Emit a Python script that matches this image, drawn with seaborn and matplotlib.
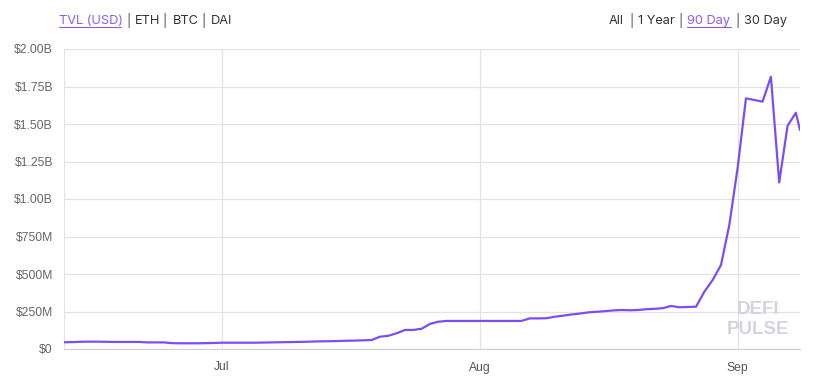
import matplotlib
matplotlib.use("Agg")
import matplotlib.pyplot as plt
import pandas as pd
import seaborn as sns
from matplotlib.lines import Line2D

# daily TVL readings, Jun 12 -> Sep 8 (last one is an intraday point)
dates = list(pd.date_range("2020-06-12", "2020-09-08", freq="D")) + [pd.Timestamp("2020-09-08 12:00")]
tvl_musd = [
    45, 46, 48, 49, 49, 48, 47, 47, 47, 47,
    44, 44, 44, 39, 38, 38, 38, 39, 40, 42,
    42, 42, 42, 42, 43, 44, 45, 46, 47, 48,
    50, 51, 52, 53, 55, 56, 58, 60, 82, 88,
    105, 127, 127, 135, 167, 182, 187, 187, 187, 187,
    187, 187, 187, 187, 187, 187, 204, 204, 205, 215,
    222, 230, 236, 244, 248, 252, 257, 260, 258, 260,
    265, 268, 272, 287, 278, 280, 282, 382, 460, 560,
    827, 1207, 1671, 1660, 1649, 1815, 1110, 1487, 1575,
    1460,
]

y_ticks = [0, 250, 500, 750, 1000, 1250, 1500, 1750, 2000]
y_labels = ["$0", "$250M", "$500M", "$750M", "$1.00B", "$1.25B", "$1.50B", "$1.75B", "$2.00B"]
x_ticks = [pd.Timestamp("2020-07-01"), pd.Timestamp("2020-08-01"), pd.Timestamp("2020-09-01")]
x_labels = ["Jul", "Aug", "Sep"]

left_menu = ["TVL (USD)", "|", "ETH", "|", "BTC", "|", "DAI"]
right_menu = ["All", "|", "1 Year", "|", "90 Day", "|", "30 Day"]

df = pd.DataFrame({"date": dates, "tvl": tvl_musd})

sns.set_style("white")
plt.rcParams["font.family"] = ["Liberation Sans", "DejaVu Sans"]

W, H = 819, 382
fig = plt.figure(figsize=(W / 100, H / 100), dpi=100)
ax = fig.add_axes([64 / W, 33 / H, (800 - 64) / W, 300 / H])

sns.lineplot(data=df, x="date", y="tvl", ax=ax, color="#7a4ef4", linewidth=1.6, zorder=3)

ax.set_xlim(dates[0], dates[-1])
ax.set_ylim(0, 2000)
ax.set_yticks(y_ticks)
ax.set_yticklabels(y_labels)
ax.set_xticks(x_ticks)
ax.set_xticklabels(x_labels)
ax.set_xlabel("")
ax.set_ylabel("")

grid_c = "#e3e3e3"
ax.grid(True, color=grid_c, linewidth=0.9, zorder=0)
for s in ["top", "right"]:
    ax.spines[s].set_visible(False)
ax.spines["left"].set_color(grid_c)
ax.spines["bottom"].set_color("#cfcfcf")
ax.tick_params(axis="y", length=7, color=grid_c, pad=1, labelsize=8.7, labelcolor="#666666")
ax.tick_params(axis="x", length=4, color=grid_c, pad=5, labelsize=8.7, labelcolor="#555555")

# watermark
wm = "#d6d3de"
fig.text(758 / W, 1 - 310 / H, "DEFI", ha="center", va="center", fontsize=13.5,
         fontweight="bold", color=wm, zorder=1)
fig.text(758 / W, 1 - 330 / H, "PULSE", ha="center", va="center", fontsize=13.5,
         fontweight="bold", color=wm, zorder=1)

# menus above the chart
purple = "#8c5cf2"
dark = "#333333"
left_x = [59, 126, 135, 162, 173, 201, 211]
right_x = [609, 629, 638, 678, 687, 735, 744]
ty = 1 - 21 / H
for txt, xx in zip(left_menu, left_x):
    c = purple if txt == "TVL (USD)" else ("#555555" if txt == "|" else dark)
    fig.text(xx / W, ty, txt, ha="left", va="center", fontsize=9.2, color=c,
             family=["Inter", "DejaVu Sans"])
for txt, xx in zip(right_menu, right_x):
    c = purple if txt == "90 Day" else ("#555555" if txt == "|" else dark)
    fig.text(xx / W, ty, txt, ha="left", va="center", fontsize=9.2, color=c,
             family=["Inter", "DejaVu Sans"])

uy = 1 - 27 / H
fig.add_artist(Line2D([59 / W, 121 / W], [uy, uy], color=purple, linewidth=0.8))
fig.add_artist(Line2D([687 / W, 731 / W], [uy, uy], color=purple, linewidth=0.8))

fig.savefig("out.png", dpi=100)
